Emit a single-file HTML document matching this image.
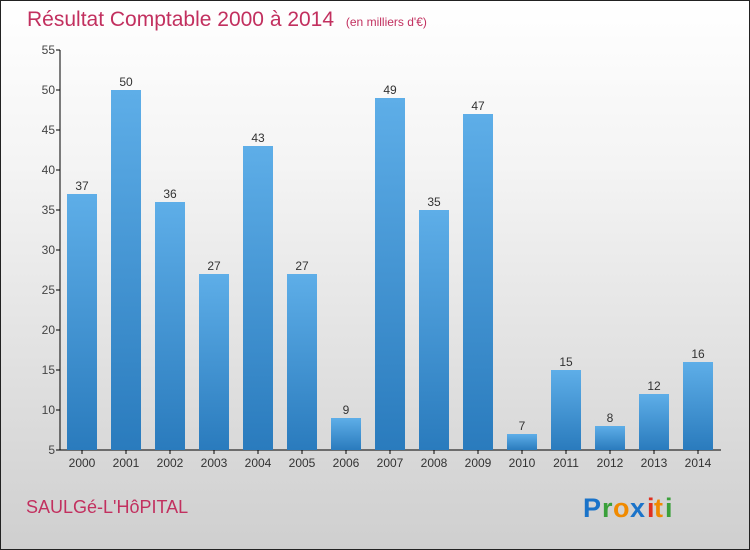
<!DOCTYPE html>
<html><head><meta charset="utf-8"><style>
body{margin:0}
#c{width:748px;height:548px;border:1px solid #222;background:linear-gradient(#ffffff,#f4f4f4 30%,#cfcfcf);position:relative;font-family:"Liberation Sans",sans-serif;overflow:hidden}
</style></head><body>
<div id="c">
<svg width="748" height="548" id="s">
<defs><linearGradient id="g" x1="0" y1="0" x2="0" y2="1"><stop offset="0" stop-color="#5eaee8"/><stop offset="1" stop-color="#2a7bbd"/></linearGradient></defs>
<text x="26" y="25" font-size="21" fill="#c2305f">Résultat Comptable 2000 à 2014 <tspan font-size="12" dx="6">(en milliers d'€)</tspan></text>
<text x="25" y="512" font-size="18" fill="#c2305f">SAULGé-L'HôPITAL</text>
<g font-size="27" font-weight="bold" font-family="'Liberation Sans',sans-serif">
<text x="582" y="516" fill="#1a73c9">P</text><text x="601" y="516" fill="#3aa03a">r</text><text x="612" y="516" fill="#f08a00">o</text><text x="629" y="516" fill="#1a73c9">x</text><text x="646" y="516" fill="#e03020">i</text><text x="653" y="516" fill="#f08a00">t</text><text x="664" y="516" fill="#3aa03a">i</text></g>
<g id="ax"></g><g id="bars"></g>
</svg></div>
<script>
const years=["2000","2001","2002","2003","2004","2005","2006","2007","2008","2009","2010","2011","2012","2013","2014"];
const values=[37,50,36,27,43,27,9,49,35,47,7,15,8,12,16];
const yTicks=[5,10,15,20,25,30,35,40,45,50,55];
const ns="http://www.w3.org/2000/svg";
const y=v=>449-(v-5)*8, x=i=>81+i*44;
function mk(t,a,p,txt){const e=document.createElementNS(ns,t);for(const k in a)e.setAttribute(k,a[k]);if(txt!=null)e.textContent=txt;p.appendChild(e);return e;}
const ax=document.getElementById('ax'),bg=document.getElementById('bars');
let l=mk('line',{x1:59,y1:49,x2:59,y2:449,stroke:'#000'},ax);


l=mk('line',{x1:59,y1:449,x2:720,y2:449,stroke:'#000'},ax);


yTicks.forEach(v=>{
 mk('line',{x1:55,y1:y(v),x2:59,y2:y(v),stroke:'#000'},ax);
 const t=mk('text',{x:54,y:y(v)+4,'text-anchor':'end','font-size':12,fill:'#444'},ax,v);
 
 
});
years.forEach((yr,i)=>{
 const r=mk('rect',{x:x(i)-15,y:y(values[i]),width:30,height:449-y(values[i]),fill:'url(#g)'},bg);
 
 
 const v=mk('text',{x:x(i),y:y(values[i])-4,'text-anchor':'middle','font-size':12,fill:'#333'},bg,values[i]);
 
 
 mk('line',{x1:x(i),y1:449,x2:x(i),y2:453,stroke:'#000'},ax);
 const t=mk('text',{x:x(i),y:466,'text-anchor':'middle','font-size':12,fill:'#333'},ax,yr);
 
 
});
</script>
</body></html>
